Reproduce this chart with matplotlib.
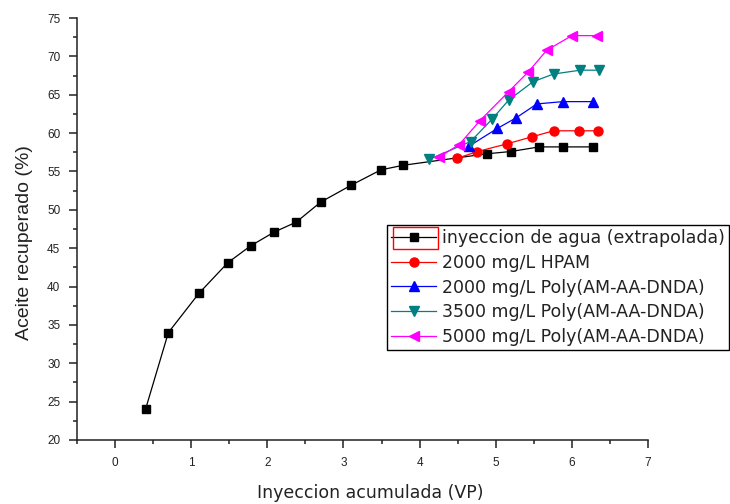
import matplotlib
matplotlib.use('Agg')
import matplotlib.pyplot as plt
from matplotlib.patches import Rectangle
from matplotlib.ticker import MultipleLocator

# water injection (extrapolated) curve
agua_x = [0.40, 0.70, 1.10, 1.48, 1.78, 2.09, 2.38, 2.70, 3.10, 3.49, 3.78, 4.88, 5.20, 5.57, 5.89, 6.28]
agua_y = [24.0, 34.0, 39.1, 43.1, 45.3, 47.1, 48.4, 51.0, 53.2, 55.2, 55.8, 57.3, 57.6, 58.2, 58.2, 58.2]

hpam_x = [4.49, 4.76, 5.15, 5.47, 5.76, 6.10, 6.34]
hpam_y = [56.7, 57.6, 58.6, 59.5, 60.3, 60.3, 60.3]

poly2000_x = [4.65, 5.02, 5.27, 5.54, 5.88, 6.28]
poly2000_y = [58.3, 60.6, 62.0, 63.8, 64.1, 64.1]

poly3500_x = [4.13, 4.67, 4.95, 5.17, 5.49, 5.76, 6.11, 6.35]
poly3500_y = [56.6, 58.9, 61.8, 64.3, 66.7, 67.7, 68.2, 68.2]

poly5000_x = [4.26, 4.52, 4.79, 5.17, 5.43, 5.67, 6.00, 6.33]
poly5000_y = [56.9, 58.5, 61.6, 65.4, 68.0, 70.8, 72.7, 72.7]

labels = [
    'inyeccion de agua (extrapolada)',
    '2000 mg/L HPAM',
    '2000 mg/L Poly(AM-AA-DNDA)',
    '3500 mg/L Poly(AM-AA-DNDA)',
    '5000 mg/L Poly(AM-AA-DNDA)',
]

W, H = 730, 504
fig = plt.figure(figsize=(W / 100, H / 100), dpi=100)
ax = fig.add_axes([77 / W, 1 - 440 / H, (648 - 77) / W, (440 - 18) / H])

series = [
    (agua_x, agua_y, 'black', 's', 6.3),
    (hpam_x, hpam_y, 'red', 'o', 6.5),
    (poly2000_x, poly2000_y, 'blue', '^', 7),
    (poly3500_x, poly3500_y, '#008080', 'v', 7),
    (poly5000_x, poly5000_y, '#ff00ff', '<', 7),
]
for (x, y, c, m, ms), lab in zip(series, labels):
    ax.plot(x, y, color=c, marker=m, markersize=ms, linewidth=0.9,
            markeredgecolor=c, label=lab)

ax.set_xlim(-0.5, 7)
ax.set_ylim(20, 75)
ax.xaxis.set_major_locator(MultipleLocator(1))
ax.xaxis.set_minor_locator(MultipleLocator(0.5))
ax.yaxis.set_major_locator(MultipleLocator(5))
ax.yaxis.set_minor_locator(MultipleLocator(2.5))

for side in ['top', 'right']:
    ax.spines[side].set_visible(False)
for side in ['left', 'bottom']:
    ax.spines[side].set_linewidth(1.1)
    ax.spines[side].set_color('#222222')

ax.tick_params(which='major', direction='out', length=6, width=1.1, color='#222222',
               labelsize=8.5, pad=6)
ax.tick_params(which='minor', direction='out', length=3, width=1.1, color='#222222')
for t in ax.get_xticklabels() + ax.get_yticklabels():
    t.set_fontfamily('Liberation Sans')
    t.set_color('#222222')

ax.set_xlabel('Inyeccion acumulada (VP)', fontsize=12.5, color='#222222')
ax.xaxis.set_label_coords((370 - 77) / (648 - 77), -(493 - 440) / (440 - 18), transform=ax.transAxes)
ax.set_ylabel('Aceite recuperado (%)', fontsize=14, family='Liberation Sans', color='#222222')
ax.yaxis.set_label_coords(-(77 - 24) / (648 - 77), 1 - (243 - 18) / (440 - 18), transform=ax.transAxes)
ax.xaxis.label.set_va('center')
ax.yaxis.label.set_va('center')

leg = fig.legend(loc='upper left', bbox_to_anchor=(387 / W, 1 - 225 / H),
                 bbox_transform=fig.transFigure, fontsize=12.5, numpoints=1,
                 frameon=True, fancybox=False, framealpha=1, edgecolor='black',
                 handlelength=2.6, handletextpad=0.3, labelspacing=0.38,
                 borderpad=0.25, borderaxespad=0)
leg.get_frame().set_linewidth(1.0)
for t in leg.get_texts():
    t.set_color('#222222')

# selection box drawn around the first legend handle in the original
fig.patches.append(Rectangle((392.7 / W, 1 - 249.3 / H), (438.3 - 392.7) / W, (249.3 - 226.7) / H,
                             transform=fig.transFigure, fill=False, edgecolor='red',
                             linewidth=1.0, zorder=10))

fig.savefig('out.png', dpi=100)
